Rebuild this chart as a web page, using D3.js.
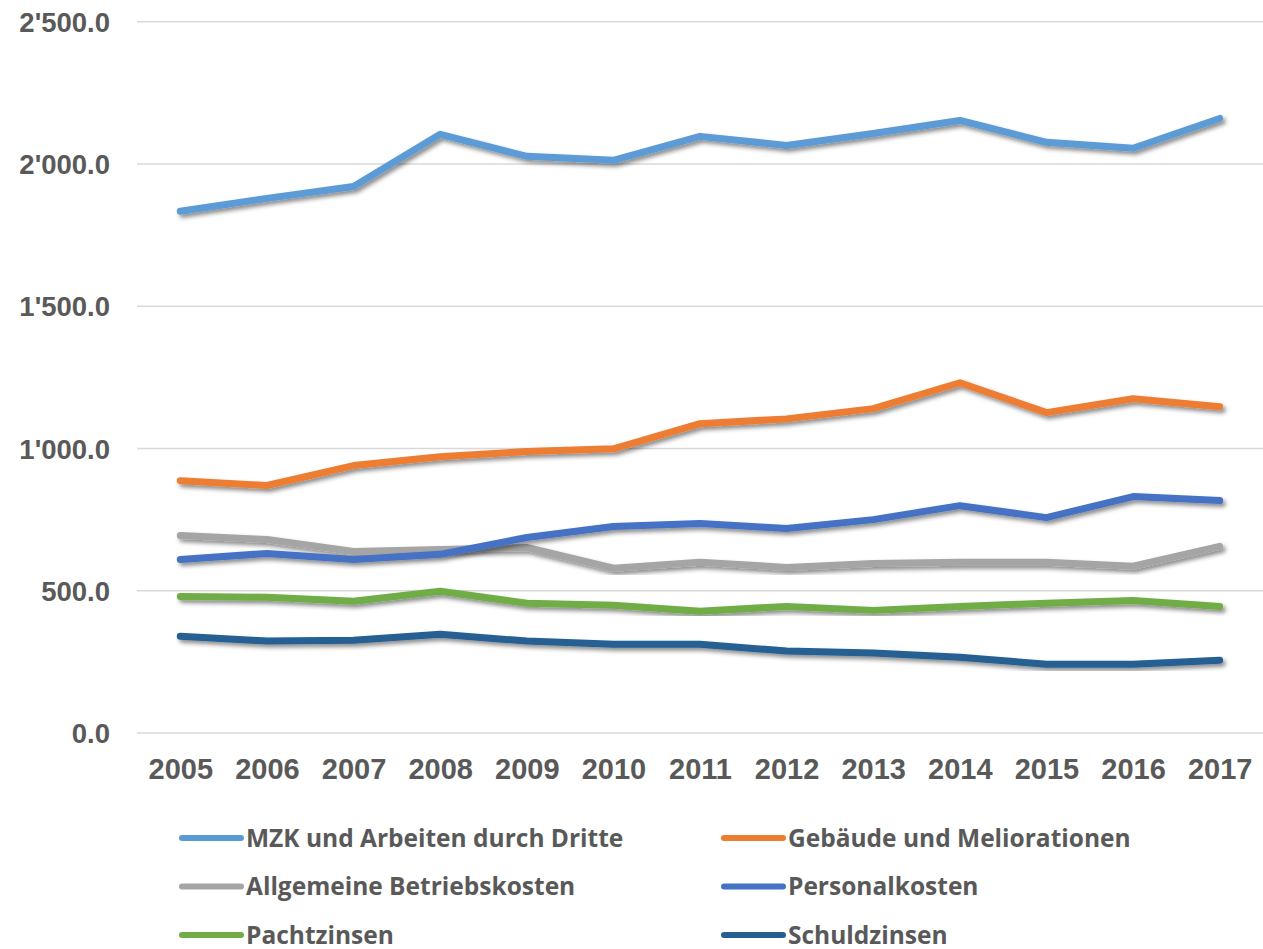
<!DOCTYPE html>
<html>
<head>
<meta charset="utf-8">
<script src="https://cdn.jsdelivr.net/npm/d3@7"></script>
<style>
  body { margin: 0; background: #fff; }
  svg { display: block; }
  .grid line { stroke: #d9d9d9; stroke-width: 1.5; }
  .axis text { fill: #595959; font-family: "Liberation Sans", Arial, sans-serif; font-weight: bold; }
  .legend text { fill: #595959; font-family: "Open Sans", sans-serif; font-weight: bold; font-size: 24.5px; }
</style>
</head>
<body>
<svg id="chart" width="1263" height="949"></svg>
<script>
// data
let years = ["2005","2006","2007","2008","2009","2010","2011","2012","2013","2014","2015","2016","2017"];
let yTicks = [0, 500, 1000, 1500, 2000, 2500];

let mzk        = [1834, 1879, 1921, 2104, 2027, 2013, 2097, 2065, 2107, 2153, 2076, 2055, 2160];
let gebaeude   = [887, 870, 940, 971, 989, 999, 1087, 1104, 1140, 1231, 1126, 1175, 1147];
let allgemein  = [694, 680, 638, 645, 652, 579, 600, 582, 596, 600, 600, 586, 656];
let personal   = [610, 631, 610, 628, 687, 726, 736, 719, 750, 799, 757, 831, 817];
let pacht      = [480, 477, 463, 498, 456, 449, 428, 445, 431, 445, 456, 466, 445];
let schuld     = [340, 323, 326, 347, 323, 312, 312, 288, 281, 266, 242, 242, 256];

let seriesNames = ["MZK und Arbeiten durch Dritte", "Gebäude und Meliorationen",
                   "Allgemeine Betriebskosten", "Personalkosten",
                   "Pachtzinsen", "Schuldzinsen"];
let seriesColors = ["#5b9bd5", "#ed7d31", "#a5a5a5", "#4472c4", "#70ad47", "#255e91"];

let series = [mzk, gebaeude, allgemein, personal, pacht, schuld].map((vals, i) => {
    return { name: seriesNames[i], color: seriesColors[i], values: vals };
});

let svg = d3.select("#chart");

let plotLeft = 137, plotRight = 1263, plotTop = 21.7, plotBottom = 733;

let x = d3.scalePoint()
    .domain(years)
    .range([plotLeft, plotRight])
    .padding(0.5);

let y = d3.scaleLinear()
    .domain([0, 2500])
    .range([plotBottom, plotTop]);

let fmt = d3.formatLocale({ decimal: ".", thousands: "'", grouping: [3], currency: ["", ""] }).format(",.1f");

//shadow for the lines
let defs = svg.append("defs");
let filter = defs.append("filter")
    .attr("id", "shadow")
    .attr("x", "-5%").attr("y", "-20%")
    .attr("width", "110%").attr("height", "140%");
filter.append("feDropShadow")
    .attr("dx", 2.5).attr("dy", 3)
    .attr("stdDeviation", 2)
    .attr("flood-color", "#000")
    .attr("flood-opacity", 0.45);

//gridlines
svg.append("g")
    .attr("class", "grid")
    .selectAll("line")
    .data(yTicks)
    .enter()
    .append("line")
    .attr("x1", plotLeft)
    .attr("x2", plotRight)
    .attr("y1", d => y(d))
    .attr("y2", d => y(d));

//y axis
let yAxis = svg.append("g")
    .attr("class", "axis")
    .attr("transform", "translate(" + 110 + ",0)")
    .call(d3.axisLeft(y).tickValues(yTicks).tickFormat(fmt).tickSize(0).tickPadding(0));
yAxis.select(".domain").remove();
yAxis.selectAll("text")
    .style("font-size", "27.5px")
    .attr("dy", "0.35em");

//x axis
let xAxis = svg.append("g")
    .attr("class", "axis")
    .attr("transform", "translate(0," + 779 + ")")
    .call(d3.axisBottom(x).tickSize(0).tickPadding(0));
xAxis.select(".domain").remove();
xAxis.selectAll("text")
    .style("font-size", "29px")
    .attr("dy", 0);

//lines
let line = d3.line()
    .x((d, i) => x(years[i]))
    .y(d => y(d));

svg.append("g")
    .selectAll("path")
    .data(series)
    .enter()
    .append("path")
    .attr("d", d => line(d.values))
    .attr("fill", "none")
    .attr("stroke", d => d.color)
    .attr("stroke-width", 7)
    .attr("stroke-linecap", "round")
    .attr("stroke-linejoin", "round")
    .attr("filter", "url(#shadow)");

//legend
let legend = svg.append("g")
    .attr("class", "legend")
    .selectAll("g")
    .data(series)
    .enter()
    .append("g")
    .attr("transform", (d, i) => {
        let col = i % 2;
        let row = Math.floor(i / 2);
        return "translate(" + (col == 0 ? 182 : 724) + "," + (838 + row * 48.5) + ")";
    });

legend.append("line")
    .attr("x1", 0)
    .attr("x2", 59)
    .attr("stroke", d => d.color)
    .attr("stroke-width", 6)
    .attr("stroke-linecap", "round");

legend.append("text")
    .attr("x", 64)
    .attr("y", 8.5)
    .text(d => d.name);
</script>
</body>
</html>
